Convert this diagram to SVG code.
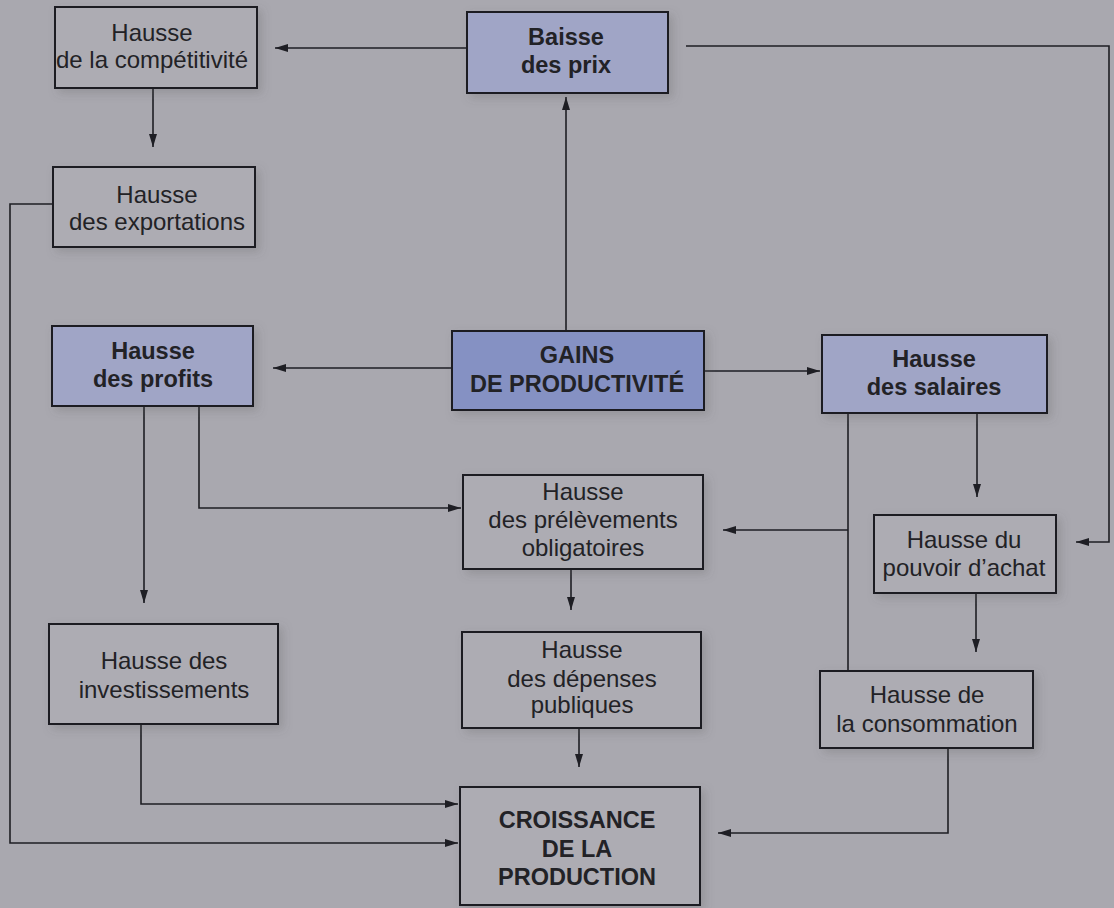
<svg xmlns="http://www.w3.org/2000/svg" width="1114" height="908" viewBox="0 0 1114 908">
<style>
.box{fill:#adacb3;stroke:#1e1e24;stroke-width:2}
.blue{fill:#a0a5c6;stroke:#1e1e24;stroke-width:2}
.gains{fill:#8591c3;stroke:#1e1e24;stroke-width:2}
.t{font-family:"Liberation Sans",Arial,sans-serif;font-size:24px;fill:#222226;text-anchor:middle}
.b{font-weight:bold;font-size:23.5px}
.c{fill:none;stroke:#1e1e24;stroke-width:1.6}
</style>
<defs>
<marker id="ah" markerUnits="userSpaceOnUse" markerWidth="13" markerHeight="8" refX="13" refY="4" orient="auto" viewBox="0 0 13 8">
<path d="M0,0 L13,4 L0,8 z" fill="#1e1e24"/>
</marker>
<filter id="sh" x="-10%" y="-20%" width="130%" height="150%">
<feDropShadow dx="4" dy="4" stdDeviation="5" flood-color="#555" flood-opacity="0.25"/>
</filter>
</defs>
<rect width="1114" height="908" fill="#a9a8af"/>

<g id="connectors">
<path class="c" d="M467,48 H275" marker-end="url(#ah)"/>
<path class="c" d="M153,88 V147" marker-end="url(#ah)"/>
<path class="c" d="M566,331 V97" marker-end="url(#ah)"/>
<path class="c" d="M686,46 H1109 V542 H1076" marker-end="url(#ah)"/>
<path class="c" d="M452,368 H273" marker-end="url(#ah)"/>
<path class="c" d="M704,371 H820" marker-end="url(#ah)"/>
<path class="c" d="M53,204 H10 V843 H458" marker-end="url(#ah)"/>
<path class="c" d="M144,406 V603" marker-end="url(#ah)"/>
<path class="c" d="M199,406 V508 H461" marker-end="url(#ah)"/>
<path class="c" d="M848,413 V671"/>
<path class="c" d="M848,530 H723" marker-end="url(#ah)"/>
<path class="c" d="M977,413 V497" marker-end="url(#ah)"/>
<path class="c" d="M976,593 V652" marker-end="url(#ah)"/>
<path class="c" d="M948,748 V833 H718" marker-end="url(#ah)"/>
<path class="c" d="M571,569 V610" marker-end="url(#ah)"/>
<path class="c" d="M579,728 V767" marker-end="url(#ah)"/>
<path class="c" d="M141,724 V804 H458" marker-end="url(#ah)"/>
</g>

<g id="competitivite">
<rect class="box" x="55" y="7" width="202" height="81" filter="url(#sh)"/>
<text class="t" x="152" y="41">Hausse</text>
<text class="t" x="152" y="68">de la compétitivité</text>
</g>

<g id="baisse-prix">
<rect class="blue" x="467" y="12" width="201" height="81" filter="url(#sh)"/>
<text class="t b" x="566" y="45">Baisse</text>
<text class="t b" x="566" y="73">des prix</text>
</g>

<g id="exportations">
<rect class="box" x="53" y="167" width="202" height="80" filter="url(#sh)"/>
<text class="t" x="157" y="203">Hausse</text>
<text class="t" x="157" y="230">des exportations</text>
</g>

<g id="profits">
<rect class="blue" x="52" y="326" width="201" height="80" filter="url(#sh)"/>
<text class="t b" x="153" y="359">Hausse</text>
<text class="t b" x="153" y="387">des profits</text>
</g>

<g id="gains">
<rect class="gains" x="452" y="331" width="252" height="79" filter="url(#sh)"/>
<text class="t b" x="577" y="363">GAINS</text>
<text class="t b" x="577" y="392">DE PRODUCTIVITÉ</text>
</g>

<g id="salaires">
<rect class="blue" x="822" y="335" width="225" height="78" filter="url(#sh)"/>
<text class="t b" x="934" y="367">Hausse</text>
<text class="t b" x="934" y="395">des salaires</text>
</g>

<g id="prelevements">
<rect class="box" x="463" y="475" width="240" height="94" filter="url(#sh)"/>
<text class="t" x="583" y="500">Hausse</text>
<text class="t" x="583" y="528">des prélèvements</text>
<text class="t" x="583" y="556">obligatoires</text>
</g>

<g id="pouvoir-achat">
<rect class="box" x="874" y="515" width="182" height="78" filter="url(#sh)"/>
<text class="t" x="964" y="548">Hausse du</text>
<text class="t" x="964" y="576">pouvoir d’achat</text>
</g>

<g id="investissements">
<rect class="box" x="49" y="624" width="229" height="100" filter="url(#sh)"/>
<text class="t" x="164" y="669">Hausse des</text>
<text class="t" x="164" y="698">investissements</text>
</g>

<g id="depenses">
<rect class="box" x="462" y="632" width="239" height="96" filter="url(#sh)"/>
<text class="t" x="582" y="658">Hausse</text>
<text class="t" x="582" y="687">des dépenses</text>
<text class="t" x="582" y="713">publiques</text>
</g>

<g id="consommation">
<rect class="box" x="820" y="671" width="213" height="77" filter="url(#sh)"/>
<text class="t" x="927" y="703">Hausse de</text>
<text class="t" x="927" y="732">la consommation</text>
</g>

<g id="croissance">
<rect class="box" x="460" y="787" width="240" height="118" filter="url(#sh)"/>
<text class="t b" x="577" y="828">CROISSANCE</text>
<text class="t b" x="577" y="857">DE LA</text>
<text class="t b" x="577" y="885">PRODUCTION</text>
</g>
</svg>
